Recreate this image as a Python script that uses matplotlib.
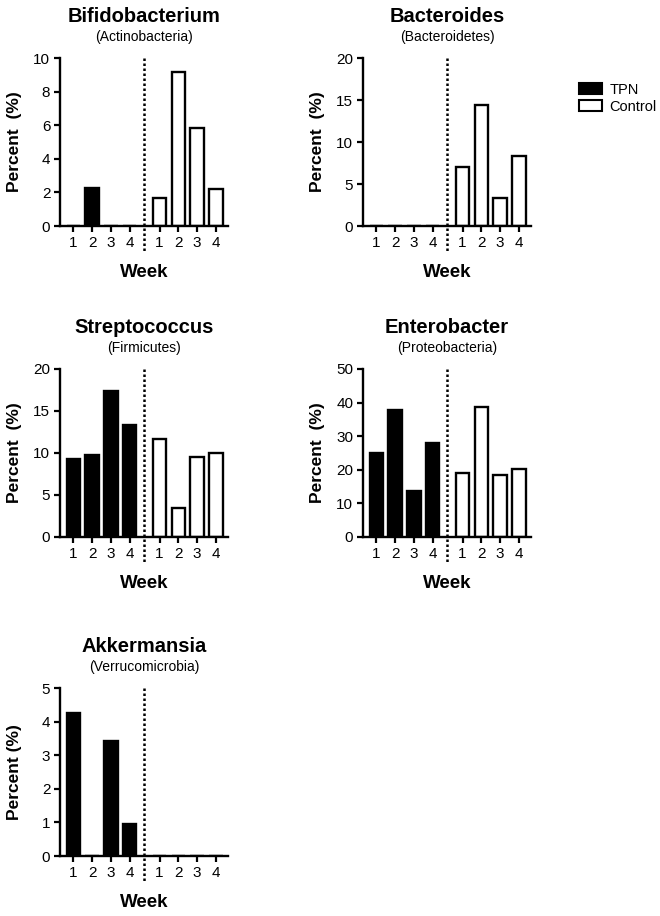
import matplotlib.pyplot as plt
from matplotlib.patches import Patch

plt.rcParams['font.family'] = ['Liberation Sans', 'DejaVu Sans']

weeks = ["1", "2", "3", "4"]

genera = ["Bifidobacterium", "Bacteroides", "Streptococcus", "Enterobacter", "Akkermansia"]
phyla = ["(Actinobacteria)", "(Bacteroidetes)", "(Firmicutes)", "(Proteobacteria)", "(Verrucomicrobia)"]

tpn = [
    [0, 2.24, 0, 0],
    [0, 0, 0, 0],
    [9.28, 9.8, 17.4, 13.3],
    [25.0, 37.8, 13.7, 28.0],
    [4.26, 0, 3.42, 0.95],
]
control = [
    [1.68, 9.15, 5.84, 2.22],
    [7.0, 14.4, 3.37, 8.3],
    [11.7, 3.4, 9.56, 9.96],
    [19.0, 38.8, 18.4, 20.2],
    [0, 0, 0, 0],
]
ymax = [10, 20, 20, 50, 5]
ystep = [2, 5, 5, 10, 1]
ylabels = ["Percent  (%)", "Percent  (%)", "Percent  (%)", "Percent  (%)", "Percent (%)"]

# axes boxes in pixels: left, baseline (from top)
boxes = [(60, 226), (363, 226), (60, 537), (363, 537), (60, 856)]

W, H = 660, 916
fig = plt.figure(figsize=(W / 100, H / 100), dpi=100)

x_tpn = [1, 2, 3, 4]
x_ctl = [5.6, 6.6, 7.6, 8.6]
sep = 4.78
bw = 0.72

for i in range(5):
    left, base = boxes[i]
    ax = fig.add_axes([left / W, (H - base) / H, 168 / W, 168 / H])
    ax.bar(x_tpn, tpn[i], width=bw, color="black", edgecolor="black", linewidth=1.7)
    ax.bar(x_ctl, control[i], width=bw, color="white", edgecolor="black", linewidth=1.7)
    ax.plot([sep, sep], [1.0, -0.155], transform=ax.get_xaxis_transform(),
            color="black", linestyle=(0, (1, 1.0)), linewidth=1.8, clip_on=False)
    ax.set_xlim(0.29, 9.25)
    ax.set_ylim(0, ymax[i])
    ax.set_yticks(range(0, ymax[i] + 1, ystep[i]))
    ax.set_xticks(x_tpn + x_ctl)
    ax.set_xticklabels(weeks + weeks)
    for s in ["top", "right"]:
        ax.spines[s].set_visible(False)
    for s in ["left", "bottom"]:
        ax.spines[s].set_linewidth(1.7)
    ax.tick_params(width=1.6, length=4, labelsize=11, pad=3)
    ax.set_ylabel(ylabels[i], fontsize=12.5, fontweight="bold")
    ax.yaxis.set_label_coords(-0.225, 0.5)
    ax.set_xlabel("Week", fontsize=13.5, fontweight="bold")
    ax.xaxis.set_label_coords(0.5, -0.225)
    ax.text(0.5, 1.245, genera[i], transform=ax.transAxes, ha="center", va="center",
            fontsize=14.5, fontweight="bold")
    ax.text(0.5, 1.125, phyla[i], transform=ax.transAxes, ha="center", va="center",
            fontsize=10)

handles = [Patch(facecolor="black", edgecolor="black", linewidth=1.5, label="TPN"),
           Patch(facecolor="white", edgecolor="black", linewidth=1.5, label="Control")]
fig.legend(handles=handles, loc="upper left", bbox_to_anchor=(573 / W, (H - 77) / H),
           frameon=False, fontsize=10.5, handlelength=1.6, handleheight=0.8,
           handletextpad=0.5, labelspacing=0.2, borderaxespad=0)

fig.savefig("out.png", dpi=100)
